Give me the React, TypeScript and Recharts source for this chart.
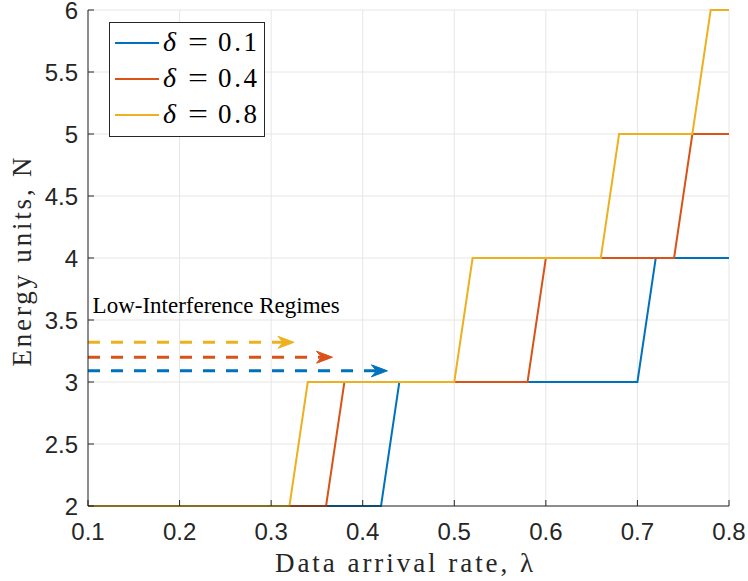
import { CartesianGrid, Label, Legend, Line, LineChart, ReferenceDot, ReferenceLine, XAxis, YAxis } from "recharts"

// arrival rate grid (lambda) and the energy units needed for each delta
const lambda = [
  0.1, 0.12, 0.14, 0.16, 0.18, 0.2, 0.22, 0.24, 0.26, 0.28, 0.3, 0.32, 0.34, 0.36, 0.38, 0.4, 0.42, 0.44,
  0.46, 0.48, 0.5, 0.52, 0.54, 0.56, 0.58, 0.6, 0.62, 0.64, 0.66, 0.68, 0.7, 0.72, 0.74, 0.76, 0.78, 0.8,
]
const unitsD01 = [
  2, 2, 2, 2, 2, 2, 2, 2, 2, 2, 2, 2, 2, 2, 2, 2, 2, 3,
  3, 3, 3, 3, 3, 3, 3, 3, 3, 3, 3, 3, 3, 4, 4, 4, 4, 4,
]
const unitsD04 = [
  2, 2, 2, 2, 2, 2, 2, 2, 2, 2, 2, 2, 2, 2, 3, 3, 3, 3,
  3, 3, 3, 3, 3, 3, 3, 4, 4, 4, 4, 4, 4, 4, 4, 5, 5, 5,
]
const unitsD08 = [
  2, 2, 2, 2, 2, 2, 2, 2, 2, 2, 2, 2, 3, 3, 3, 3, 3, 3,
  3, 3, 3, 4, 4, 4, 4, 4, 4, 4, 4, 5, 5, 5, 5, 5, 6, 6,
]

const xTicks = [0.1, 0.2, 0.3, 0.4, 0.5, 0.6, 0.7, 0.8]
const yTicks = [2, 2.5, 3, 3.5, 4, 4.5, 5, 5.5, 6]

const deltas = ["0.1", "0.4", "0.8"]
const colors = ["#0072BD", "#D95319", "#EDB120"]
const keys = ["d01", "d04", "d08"]

// dashed "regime" arrows: start lambda, end lambda, level
const arrowStart = 0.1
const arrowEnd = [0.427, 0.367, 0.325]
const arrowLevel = [3.09, 3.2, 3.32]

const data = lambda.map((x, i) => ({ x, d01: unitsD01[i], d04: unitsD04[i], d08: unitsD08[i] }))

const ink = "#262626"
const sans = "'Liberation Sans', Arial, Helvetica, sans-serif"
const serif = "'Liberation Serif', 'Times New Roman', serif"

function BottomTick({ x, y, payload }: any) {
  return (
    <g>
      <line x1={x} x2={x} y1={y} y2={y - 6} stroke={ink} />
      <text x={x} y={y + 34} textAnchor="middle" fontSize={24} fontFamily={sans} fill={ink}>
        {payload.value}
      </text>
    </g>
  )
}

function TopTick({ x, y }: any) {
  return <line x1={x} x2={x} y1={y} y2={y + 6} stroke={ink} />
}

function LeftTick({ x, y, payload }: any) {
  return (
    <g>
      <line x1={x} x2={x + 6} y1={y} y2={y} stroke={ink} />
      <text x={x - 10} y={y + 8.5} textAnchor="end" fontSize={24} fontFamily={sans} fill={ink}>
        {payload.value}
      </text>
    </g>
  )
}

function RightTick({ x, y }: any) {
  return <line x1={x} x2={x - 6} y1={y} y2={y} stroke={ink} />
}

function arrowShape(color: string) {
  return (props: any) => {
    const { x1, y1, x2 } = props
    const y = y1
    return (
      <g>
        <line x1={x1} x2={x2 - 11} y1={y} y2={y} stroke={color} strokeWidth={3} strokeDasharray="12 11" />
        <path
          d={`M${x2},${y} L${x2 - 16},${y - 6} L${x2 - 11},${y} L${x2 - 16},${y + 6} Z`}
          fill={color}
          stroke={color}
          strokeWidth={1}
        />
      </g>
    )
  }
}

function LegendBox() {
  const rows = [21, 57, 93]
  return (
    <svg width={156} height={115} style={{ display: "block" }}>
      <rect x={0.5} y={0.5} width={155} height={114} fill="#fff" stroke={ink} />
      {deltas.map((d, i) => (
        <g key={d}>
          <line x1={6} x2={50} y1={rows[i]} y2={rows[i]} stroke={colors[i]} strokeWidth={2} />
          <text x={54} y={rows[i] + 8} fontSize={28} fontFamily={serif} fontStyle="italic" fill="#000">
            δ
          </text>
          <text x={79} y={rows[i] + 8} fontSize={28} fontFamily={serif} fill="#000" textLength={20} lengthAdjust="spacingAndGlyphs">
            =
          </text>
          <text x={109} y={rows[i] + 8} fontSize={27} fontFamily={serif} fill="#000" textLength={39} lengthAdjust="spacing">
            {d}
          </text>
        </g>
      ))}
    </svg>
  )
}

export default function App() {
  return (
    <div style={{ position: "absolute", left: 0, top: 0 }}>
      <LineChart width={748} height={581} data={data} margin={{ top: 10, right: 19, bottom: 0, left: 0 }}>
        <CartesianGrid stroke="#e6e6e6" />
        <XAxis
          dataKey="x"
          type="number"
          domain={[0.1, 0.8]}
          ticks={xTicks}
          interval={0}
          height={75}
          tickSize={0}
          tickMargin={0}
          tickLine={false}
          axisLine={{ stroke: ink }}
          tick={<BottomTick />}
        >
          <Label
            content={() => (
              <text x={404} y={572} textAnchor="middle" fontSize={27} fontFamily={serif} fill={ink} textLength={258} lengthAdjust="spacing">
                Data arrival rate, λ
              </text>
            )}
          />
        </XAxis>
        <XAxis
          xAxisId="top"
          orientation="top"
          dataKey="x"
          type="number"
          domain={[0.1, 0.8]}
          ticks={xTicks}
          interval={0}
          height={0}
          tickSize={0}
          tickMargin={0}
          tickLine={false}
          axisLine={{ stroke: ink }}
          tick={<TopTick />}
        />
        <YAxis
          type="number"
          domain={[2, 6]}
          ticks={yTicks}
          interval={0}
          width={88}
          tickSize={0}
          tickMargin={0}
          tickLine={false}
          axisLine={{ stroke: ink }}
          tick={<LeftTick />}
        >
          <Label
            content={() => (
              <text
                x={31}
                y={262}
                transform="rotate(-90 31 262)"
                textAnchor="middle"
                fontSize={27}
                fontFamily={serif}
                fill={ink}
                textLength={209}
                lengthAdjust="spacing"
              >
                Energy units, N
              </text>
            )}
          />
        </YAxis>
        <YAxis
          yAxisId="right"
          orientation="right"
          type="number"
          domain={[2, 6]}
          ticks={yTicks}
          interval={0}
          width={0}
          tickSize={0}
          tickMargin={0}
          tickLine={false}
          axisLine={{ stroke: ink }}
          tick={<RightTick />}
        />
        {keys.map((k, i) => (
          <Line
            key={k}
            dataKey={k}
            type="linear"
            stroke={colors[i]}
            strokeWidth={2}
            dot={false}
            activeDot={false}
            isAnimationActive={false}
          />
        ))}
        {arrowLevel.map((lv, i) => (
          <ReferenceLine
            key={i}
            segment={[
              { x: arrowStart, y: lv },
              { x: arrowEnd[i], y: lv },
            ]}
            shape={arrowShape(colors[i])}
          />
        ))}
        <ReferenceDot
          x={0.105}
          y={3.555}
          r={0}
          shape={(p: any) => (
            <text x={p.cx} y={p.cy} fontSize={23} fontFamily={serif} fill="#000">
              Low-Interference Regimes
            </text>
          )}
        />
        <Legend
          layout="vertical"
          align="center"
          verticalAlign="middle"
          wrapperStyle={{ left: 109, top: 22, width: 156, height: 115 }}
          content={() => <LegendBox />}
        />
      </LineChart>
    </div>
  )
}
